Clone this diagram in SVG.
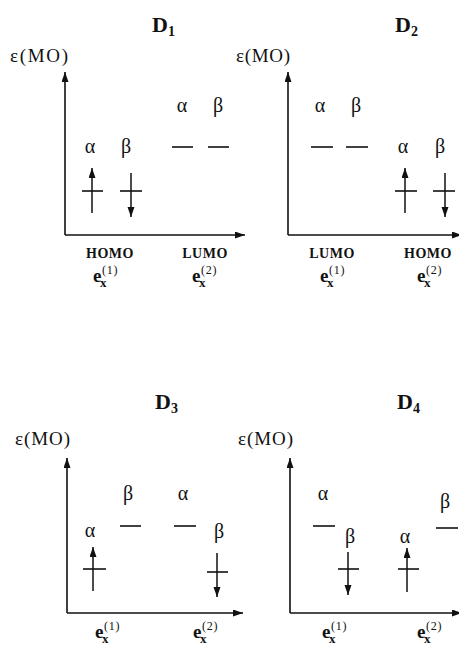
<svg xmlns="http://www.w3.org/2000/svg" width="459" height="646" viewBox="0 0 459 646">
<style>
text{font-family:"Liberation Serif","Times New Roman",serif;fill:#111}
.t{font-size:22px;font-weight:bold}
.ts{font-size:14px;font-weight:bold}
.eps{font-size:19px;font-family:"Liberation Serif",serif}
.g{font-size:20px;text-anchor:middle;font-family:"Liberation Serif",serif}
.hl{font-size:14px;font-weight:bold;text-anchor:middle;letter-spacing:0.5px}
.e{font-size:19px;font-weight:bold}
.ex{font-size:13px;font-weight:bold}
.es{font-size:12px;letter-spacing:0.8px}
.ax{stroke:#111;stroke-width:1.6;fill:none;marker-end:url(#ah)}
.lv{stroke:#111;stroke-width:1.6}
.sp{stroke:#111;stroke-width:1.5;marker-end:url(#sh)}
</style>
<defs>
<marker id="ah" markerUnits="userSpaceOnUse" markerWidth="11" markerHeight="8" refX="10" refY="3.5" orient="auto"><path d="M0,0 L10,3.5 L0,7 z" fill="#111"/></marker>
<marker id="sh" markerUnits="userSpaceOnUse" markerWidth="11" markerHeight="8" refX="10" refY="3.5" orient="auto"><path d="M0,0 L10,3.5 L0,7 z" fill="#111"/></marker>
</defs>
<rect width="459" height="646" fill="#fff"/>

<g id="axes">
<path class="ax" d="M65,235 V72"/><path class="ax" d="M65,235 H245"/>
<path class="ax" d="M288,235 V72"/><path class="ax" d="M288,235 H462"/>
<path class="ax" d="M67,613 V458"/><path class="ax" d="M67,613 H243"/>
<path class="ax" d="M290,613 V458"/><path class="ax" d="M290,613 H462"/>
</g>

<g id="D1">
<text class="t" x="152" y="32">D<tspan class="ts" dy="4">1</tspan></text>
<text class="eps" x="10" y="62" textLength="58" lengthAdjust="spacing">ε(MO)</text>
<text class="g" x="90" y="153">α</text><text class="g" x="126" y="153">β</text>
<line class="lv" x1="82" y1="191" x2="103" y2="191"/><line class="lv" x1="120" y1="191" x2="142" y2="191"/>
<line class="sp" x1="92" y1="213" x2="92" y2="168"/><line class="sp" x1="131" y1="173" x2="131" y2="217"/>
<text class="g" x="182" y="112">α</text><text class="g" x="218" y="112">β</text>
<line class="lv" x1="172" y1="147" x2="193" y2="147"/><line class="lv" x1="208" y1="147" x2="229" y2="147"/>
<text class="hl" x="110" y="258">HOMO</text><text class="hl" x="205" y="258">LUMO</text>
<g transform="translate(93,282)"><text class="e">e</text><text class="ex" x="7" y="5">x</text><text class="es" x="9" y="-8">(1)</text></g>
<g transform="translate(192,282)"><text class="e">e</text><text class="ex" x="7" y="5">x</text><text class="es" x="9" y="-8">(2)</text></g>
</g>

<g id="D2">
<text class="t" x="395" y="32">D<tspan class="ts" dy="4">2</tspan></text>
<text class="eps" x="236" y="62" textLength="54" lengthAdjust="spacing">ε(MO)</text>
<text class="g" x="320" y="112">α</text><text class="g" x="356" y="112">β</text>
<line class="lv" x1="311" y1="147" x2="333" y2="147"/><line class="lv" x1="346" y1="147" x2="368" y2="147"/>
<text class="g" x="403" y="153">α</text><text class="g" x="440" y="153">β</text>
<line class="lv" x1="395" y1="191" x2="417" y2="191"/><line class="lv" x1="433" y1="191" x2="455" y2="191"/>
<line class="sp" x1="405" y1="213" x2="405" y2="168"/><line class="sp" x1="445" y1="173" x2="445" y2="217"/>
<text class="hl" x="332" y="258">LUMO</text><text class="hl" x="428" y="258">HOMO</text>
<g transform="translate(320,282)"><text class="e">e</text><text class="ex" x="7" y="5">x</text><text class="es" x="9" y="-8">(1)</text></g>
<g transform="translate(417,282)"><text class="e">e</text><text class="ex" x="7" y="5">x</text><text class="es" x="9" y="-8">(2)</text></g>
</g>

<g id="D3">
<text class="t" x="155" y="409">D<tspan class="ts" dy="4">3</tspan></text>
<text class="eps" x="15" y="445" textLength="55" lengthAdjust="spacing">ε(MO)</text>
<text class="g" x="90" y="537">α</text>
<line class="lv" x1="83" y1="569" x2="106" y2="569"/>
<line class="sp" x1="93" y1="591" x2="93" y2="547"/>
<text class="g" x="128" y="500">β</text>
<line class="lv" x1="120" y1="526" x2="141" y2="526"/>
<text class="g" x="183" y="500">α</text>
<line class="lv" x1="174" y1="526" x2="196" y2="526"/>
<text class="g" x="219" y="538">β</text>
<line class="lv" x1="207" y1="572" x2="228" y2="572"/>
<line class="sp" x1="217" y1="553" x2="217" y2="597"/>
<g transform="translate(95,638)"><text class="e">e</text><text class="ex" x="7" y="5">x</text><text class="es" x="9" y="-8">(1)</text></g>
<g transform="translate(193,638)"><text class="e">e</text><text class="ex" x="7" y="5">x</text><text class="es" x="9" y="-8">(2)</text></g>
</g>

<g id="D4">
<text class="t" x="397" y="409">D<tspan class="ts" dy="4">4</tspan></text>
<text class="eps" x="238" y="445" textLength="55" lengthAdjust="spacing">ε(MO)</text>
<text class="g" x="323" y="500">α</text>
<line class="lv" x1="313" y1="526" x2="335" y2="526"/>
<text class="g" x="350" y="543">β</text>
<line class="lv" x1="338" y1="569" x2="359" y2="569"/>
<line class="sp" x1="348" y1="552" x2="348" y2="595"/>
<text class="g" x="405" y="543">α</text>
<line class="lv" x1="398" y1="569" x2="419" y2="569"/>
<line class="sp" x1="407" y1="592" x2="407" y2="548"/>
<text class="g" x="445" y="508">β</text>
<line class="lv" x1="436" y1="528" x2="458" y2="528"/>
<g transform="translate(322,638)"><text class="e">e</text><text class="ex" x="7" y="5">x</text><text class="es" x="9" y="-8">(1)</text></g>
<g transform="translate(417,638)"><text class="e">e</text><text class="ex" x="7" y="5">x</text><text class="es" x="9" y="-8">(2)</text></g>
</g>
</svg>
